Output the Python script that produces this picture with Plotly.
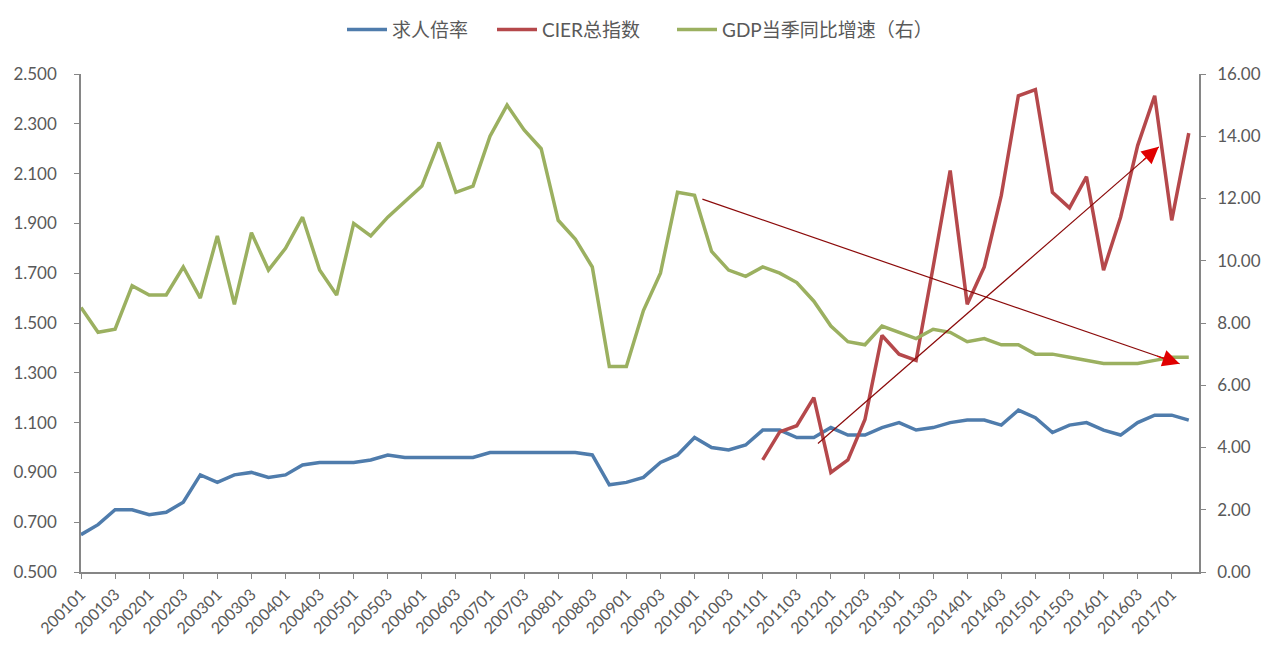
import plotly.graph_objects as go

# Quarter categories 2001Q1 .. 2017Q2
quarters = [f"{y}{q:02d}" for y in range(2001, 2018) for q in range(1, 5)][:66]
tick_labels = ["200101", "200103", "200201", "200203", "200301", "200303", "200401", "200403",
               "200501", "200503", "200601", "200603", "200701", "200703", "200801", "200803",
               "200901", "200903", "201001", "201003", "201101", "201103", "201201", "201203",
               "201301", "201303", "201401", "201403", "201501", "201503", "201601", "201603",
               "201701"]

# 求人倍率 (left axis)
job_ratio = [0.65, 0.69, 0.75, 0.75, 0.73, 0.74, 0.78, 0.89, 0.86, 0.89, 0.90, 0.88, 0.89, 0.93,
             0.94, 0.94, 0.94, 0.95, 0.97, 0.96, 0.96, 0.96, 0.96, 0.96, 0.98, 0.98, 0.98, 0.98,
             0.98, 0.98, 0.97, 0.85, 0.86, 0.88, 0.94, 0.97, 1.04, 1.00, 0.99, 1.01, 1.07, 1.07,
             1.04, 1.04, 1.08, 1.05, 1.05, 1.08, 1.10, 1.07, 1.08, 1.10, 1.11, 1.11, 1.09, 1.15,
             1.12, 1.06, 1.09, 1.10, 1.07, 1.05, 1.10, 1.13, 1.13, 1.11]

# CIER总指数 (right axis), starts 2011Q1
cier_quarters = quarters[40:]
cier = [3.6, 4.5, 4.7, 5.6, 3.2, 3.6, 4.9, 7.6, 7.0, 6.8, 9.8, 12.9, 8.6, 9.8, 12.1, 15.3,
        15.5, 12.2, 11.7, 12.7, 9.7, 11.4, 13.7, 15.3, 11.3, 14.1]

# GDP当季同比增速 (right axis)
gdp = [8.5, 7.7, 7.8, 9.2, 8.9, 8.9, 9.8, 8.8, 10.8, 8.6, 10.9, 9.7, 10.4, 11.4, 9.7, 8.9,
       11.2, 10.8, 11.4, 11.9, 12.4, 13.8, 12.2, 12.4, 14.0, 15.0, 14.2, 13.6, 11.3, 10.7,
       9.8, 6.6, 6.6, 8.4, 9.6, 12.2, 12.1, 10.3, 9.7, 9.5, 9.8, 9.6, 9.3, 8.7, 7.9, 7.4,
       7.3, 7.9, 7.7, 7.5, 7.8, 7.7, 7.4, 7.5, 7.3, 7.3, 7.0, 7.0, 6.9, 6.8, 6.7, 6.7, 6.7,
       6.8, 6.9, 6.9]

# Trend arrows (category index, right-axis value): tail -> head
arrow_down = dict(x0=36.46, y0=11.98, x1=64.46, y1=6.69)
arrow_up = dict(x0=43.24, y0=4.13, x1=63.24, y1=13.66)

BLUE, RED, GREEN = "#4F7CAC", "#B5484B", "#9BB060"
FONT = "Lato, 'Noto Sans CJK SC', sans-serif"
GRAY = "#595959"
AXIS = "#868686"

fig = go.Figure()
fig.add_trace(go.Scatter(x=quarters, y=job_ratio, name="求人倍率", mode="lines",
                         line=dict(color=BLUE, width=3.5), yaxis="y", legend="legend"))
fig.add_trace(go.Scatter(x=cier_quarters, y=cier, name="CIER总指数", mode="lines",
                         line=dict(color=RED, width=3.5), yaxis="y2", legend="legend2"))
fig.add_trace(go.Scatter(x=quarters, y=gdp, name="GDP当季同比增速（右）", mode="lines",
                         line=dict(color=GREEN, width=3.5), yaxis="y2", legend="legend3"))

shapes = []
annotations = []
for a in (arrow_down, arrow_up):
    shapes.append(dict(type="line", xref="x", yref="y2", x0=a["x0"], y0=a["y0"],
                       x1=a["x1"], y1=a["y1"], line=dict(color="#8B0A0A", width=1.2)))
    fx = a["x0"] + (a["x1"] - a["x0"]) * 0.95
    fy = a["y0"] + (a["y1"] - a["y0"]) * 0.95
    annotations.append(dict(x=a["x1"], y=a["y1"], xref="x", yref="y2", ax=fx, ay=fy,
                            axref="x", ayref="y2", text="", showarrow=True, arrowhead=2,
                            arrowsize=2.6, arrowwidth=1.3, arrowcolor="#E00000"))

legend_common = dict(orientation="h", xanchor="left", y=1.087, yanchor="middle",
                     font=dict(size=19, color=GRAY), itemwidth=40,
                     bgcolor="rgba(0,0,0,0)")

fig.update_layout(
    width=1280, height=657,
    margin=dict(l=81, r=81, t=73, b=85),
    paper_bgcolor="white", plot_bgcolor="white",
    font=dict(family=FONT, color=GRAY, size=15),
    showlegend=True,
    legend=dict(x=(342 - 81) / 1118, **legend_common),
    legend2=dict(x=(492 - 81) / 1118, **legend_common),
    legend3=dict(x=(672 - 81) / 1118, **legend_common),
    xaxis=dict(type="category", range=[0, 65.6], tickvals=tick_labels, ticktext=tick_labels,
               tickangle=-45, ticks="outside", ticklen=5, tickcolor=AXIS,
               showline=True, linecolor=AXIS, linewidth=1.5, showgrid=False,
               tickfont=dict(size=16, color=GRAY)),
    yaxis=dict(range=[0.5, 2.5], dtick=0.2, tick0=0.5, tickformat=".3f", ticks="outside",
               ticklen=5, tickcolor=AXIS, showline=True, linecolor=AXIS, linewidth=1.5,
               showgrid=False, zeroline=False, tickfont=dict(size=17, color=GRAY),
               ticklabelstandoff=14),
    yaxis2=dict(range=[0, 16], dtick=2, tickformat=".2f", overlaying="y", side="right",
                anchor="x", ticks="outside", ticklen=5, tickcolor=AXIS, showline=True,
                linecolor=AXIS, linewidth=1.5, showgrid=False, zeroline=False,
                tickfont=dict(size=17, color=GRAY), ticklabelstandoff=8),
    shapes=shapes,
    annotations=annotations,
)

fig.write_html("out.html")
